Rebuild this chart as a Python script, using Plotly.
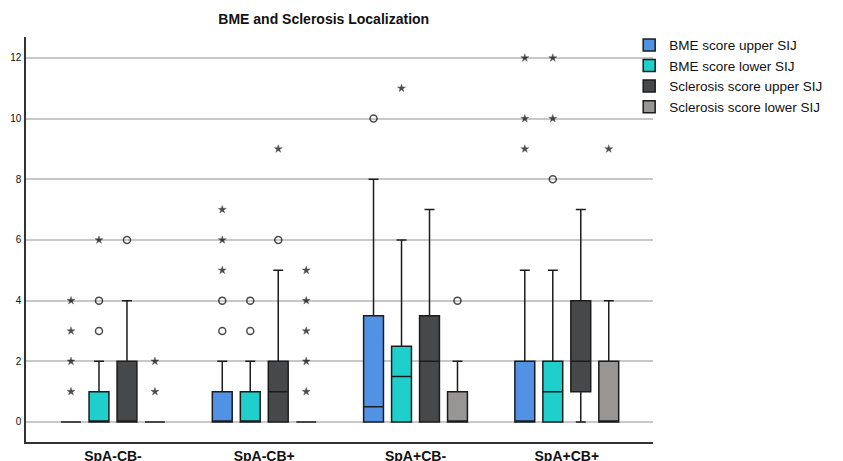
import plotly.graph_objects as go

categories = ["SpA-CB-", "SpA-CB+", "SpA+CB-", "SpA+CB+"]
series_names = ["BME score upper SIJ", "BME score lower SIJ",
                "Sclerosis score upper SIJ", "Sclerosis score lower SIJ"]
series_colors = ["#5292e4", "#1fcfcc", "#46484a", "#989595"]

# box statistics per series (one value per category)
bme_upper_lower_whisker = [0, 0, 0, 0]
bme_upper_q1 = [0, 0, 0, 0]
bme_upper_median = [0, 0, 0.5, 0]
bme_upper_q3 = [0, 1, 3.5, 2]
bme_upper_upper_whisker = [0, 2, 8, 5]

bme_lower_lower_whisker = [0, 0, 0, 0]
bme_lower_q1 = [0, 0, 0, 0]
bme_lower_median = [0, 0, 1.5, 1]
bme_lower_q3 = [1, 1, 2.5, 2]
bme_lower_upper_whisker = [2, 2, 6, 5]

scl_upper_lower_whisker = [0, 0, 0, 0]
scl_upper_q1 = [0, 0, 0, 1]
scl_upper_median = [0, 1, 2, 2]
scl_upper_q3 = [2, 2, 3.5, 4]
scl_upper_upper_whisker = [4, 5, 7, 7]

scl_lower_lower_whisker = [0, 0, 0, 0]
scl_lower_q1 = [0, 0, 0, 0]
scl_lower_median = [0, 0, 0, 0]
scl_lower_q3 = [0, 0, 1, 2]
scl_lower_upper_whisker = [0, 0, 2, 4]

# outliers: (category, value, kind)  kind "o" = outlier, "*" = extreme
bme_upper_outliers = [("SpA-CB-", 1, "*"), ("SpA-CB-", 2, "*"), ("SpA-CB-", 3, "*"), ("SpA-CB-", 4, "*"),
                      ("SpA-CB+", 3, "o"), ("SpA-CB+", 4, "o"), ("SpA-CB+", 5, "*"), ("SpA-CB+", 6, "*"), ("SpA-CB+", 7, "*"),
                      ("SpA+CB-", 10, "o"),
                      ("SpA+CB+", 9, "*"), ("SpA+CB+", 10, "*"), ("SpA+CB+", 12, "*")]
bme_lower_outliers = [("SpA-CB-", 3, "o"), ("SpA-CB-", 4, "o"), ("SpA-CB-", 6, "*"),
                      ("SpA-CB+", 3, "o"), ("SpA-CB+", 4, "o"),
                      ("SpA+CB-", 11, "*"),
                      ("SpA+CB+", 8, "o"), ("SpA+CB+", 10, "*"), ("SpA+CB+", 12, "*")]
scl_upper_outliers = [("SpA-CB-", 6, "o"),
                      ("SpA-CB+", 6, "o"), ("SpA-CB+", 9, "*")]
scl_lower_outliers = [("SpA-CB-", 1, "*"), ("SpA-CB-", 2, "*"),
                      ("SpA-CB+", 1, "*"), ("SpA-CB+", 2, "*"), ("SpA-CB+", 3, "*"), ("SpA-CB+", 4, "*"), ("SpA-CB+", 5, "*"),
                      ("SpA+CB-", 4, "o"),
                      ("SpA+CB+", 9, "*")]

y_tick_values = [0, 2, 4, 6, 8, 10, 12]

stats = [
    (bme_upper_lower_whisker, bme_upper_q1, bme_upper_median, bme_upper_q3, bme_upper_upper_whisker, bme_upper_outliers),
    (bme_lower_lower_whisker, bme_lower_q1, bme_lower_median, bme_lower_q3, bme_lower_upper_whisker, bme_lower_outliers),
    (scl_upper_lower_whisker, scl_upper_q1, scl_upper_median, scl_upper_q3, scl_upper_upper_whisker, scl_upper_outliers),
    (scl_lower_lower_whisker, scl_lower_q1, scl_lower_median, scl_lower_q3, scl_lower_upper_whisker, scl_lower_outliers),
]

FONT = "Liberation Sans, Arial, sans-serif"
fig = go.Figure()

for i, (name, color, (lf, q1, med, q3, uf, outl)) in enumerate(zip(series_names, series_colors, stats)):
    fig.add_trace(go.Box(
        name=name, x=categories, lowerfence=lf, q1=q1, median=med, q3=q3, upperfence=uf,
        fillcolor=color, line=dict(color="#1c1c1c", width=1.5),
        whiskerwidth=0.5, boxpoints=False, hoverinfo="skip",
        offsetgroup=f"s{i}", alignmentgroup="boxes",
    ))

for i, (name, (lf, q1, med, q3, uf, outl)) in enumerate(zip(series_names, stats)):
    fig.add_trace(go.Scatter(
        x=[c for c, v, k in outl], y=[v for c, v, k in outl],
        mode="markers", showlegend=False, name=name, orientation="v",
        offsetgroup=f"s{i}", alignmentgroup="pts", hoverinfo="skip",
        marker=dict(
            symbol=["circle-open" if k == "o" else "star" for c, v, k in outl],
            size=[7 if k == "o" else 6 for c, v, k in outl],
            color="#000000", line=dict(color="#000000", width=[1.5 if k == "o" else 0.4 for c, v, k in outl]),
        ),
    ))

fig.update_layout(
    width=843, height=461,
    margin=dict(l=26, r=190, t=37, b=19),
    paper_bgcolor="white", plot_bgcolor="white",
    boxmode="group", boxgap=0.26, boxgroupgap=0.29,
    scattermode="group", scattergap=0.26,
    font=dict(family=FONT, color="#111111"),
    title=dict(text="<b>BME and Sclerosis Localization</b>", x=0.384, xanchor="center",
               y=0.958, yanchor="middle", font=dict(size=14, family=FONT, color="#111111")),
    legend=dict(x=0.962, xanchor="left", y=1.018, yanchor="top",
                bgcolor="rgba(0,0,0,0)", font=dict(size=13.5, family=FONT, color="#111111"),
                tracegroupgap=0, itemclick=False),
    showlegend=True,
)
fig.update_xaxes(
    type="category", categoryorder="array", categoryarray=categories,
    range=[-0.575, 3.57], showgrid=False, zeroline=False,
    showline=True, linecolor="#333333", linewidth=1.5, ticks="",
    tickfont=dict(size=14, family=FONT, color="#111111", weight="bold"),
    automargin=False,
)
fig.update_yaxes(
    range=[-0.66, 12.69], tickvals=y_tick_values, showgrid=True, gridcolor="#c8c8c8", gridwidth=1.5,
    zeroline=False, showline=True, linecolor="#333333", linewidth=1.5, ticks="",
    ticklabelstandoff=1, tickfont=dict(size=10, family=FONT, color="#111111"),
    automargin=False,
)

fig.write_html("out.html", config={"displayModeBar": False},
               post_script="document.body.style.margin='0';document.body.style.overflow='hidden';")
